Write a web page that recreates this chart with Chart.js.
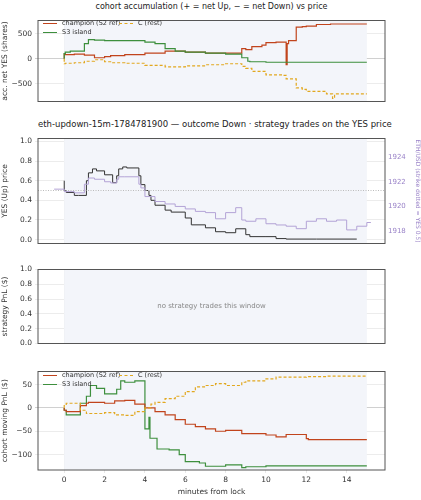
<!DOCTYPE html>
<html><head><meta charset="utf-8">
<script src="https://cdn.jsdelivr.net/npm/chart.js@4"></script>
<style>
body{margin:0;width:421px;height:500px;position:relative;background:#fff;font-family:"DejaVu Sans",sans-serif;overflow:hidden}
.p{position:absolute;left:0}
.t{position:absolute;left:38px;width:347px;text-align:center;font-size:8px;color:#222;white-space:nowrap}
.lg{position:absolute;font-size:6.5px;color:#333;line-height:9px}
.lg span.sw{display:inline-block;width:14px;height:0;border-top:1.5px solid;vertical-align:middle;margin-right:5px}
</style></head><body>
<div class="t" style="top:2px">cohort accumulation (+ = net Up, − = net Down) vs price</div>
<div class="p" style="top:13px;width:387px;height:96px"><canvas id="c1"></canvas></div>
<div class="lg" style="left:43px;top:19px"><span class="sw" style="border-color:#c1441c"></span>champion (S2 ref)<br><span class="sw" style="border-color:#3d8f3d"></span>S3 island</div>
<div class="lg" style="left:119px;top:19px"><span class="sw" style="border-color:#e2a81f;border-top-style:dashed"></span>C (rest)</div>
<div class="t" style="top:119px;font-size:8.5px">eth-updown-15m-1784781900 — outcome Down · strategy trades on the YES price</div>
<div class="p" style="top:131px;width:421px;height:120px"><canvas id="c2"></canvas></div>
<div class="p" style="top:262px;width:387px;height:89px"><canvas id="c3"></canvas></div>
<div class="t" style="top:302px;color:#888;font-size:7px">no strategy trades this window</div>
<div class="p" style="top:364px;width:387px;height:136px"><canvas id="c4"></canvas></div>
<div class="lg" style="left:43px;top:371px"><span class="sw" style="border-color:#c1441c"></span>champion (S2 ref)<br><span class="sw" style="border-color:#3d8f3d"></span>S3 island</div>
<div class="lg" style="left:119px;top:371px"><span class="sw" style="border-color:#e2a81f;border-top-style:dashed"></span>C (rest)</div>
<script>
// ---- data ----
const accChampX=[0,0.05,0.5,1,1.5,1.6,2,2.3,3,4,5,6,7,8,8.8,9,9.3,9.8,10,10.5,11,11.05,11.12,11.5,11.8,12,12.5,13.2,15];
const accChampY=[0,100,80,90,70,20,20,40,60,80,110,150,130,110,110,200,180,240,270,320,330,-120,300,360,630,640,650,680,690];
const accS3X=[0,0.05,0.3,1,1.2,1.5,2,4,4.5,5,5.5,6,7,8,8.8,9.1,9.2,10,10.5,15];
const accS3Y=[0,100,130,150,300,380,370,360,330,300,200,150,130,110,90,20,-50,-60,-70,-70];
const accCX=[0,0.05,0.5,1,1.5,2,2.3,3,4,5,6,7,8,8.8,9,9.3,10,10.8,11,11.5,11.8,12,13,13.3,13.4,13.5,15];
const accCY=[0,-100,-90,-80,-50,-20,-60,-80,-90,-130,-160,-140,-120,-100,-150,-190,-250,-320,-330,-400,-580,-610,-650,-700,-790,-700,-700];
const yesX=[0,0.1,0.5,0.7,1.1,1.2,1.4,1.6,2,2.4,2.6,2.7,2.9,3.1,3.7,3.8,4.0,4.2,4.3,4.5,5,5.3,6,6.3,7,7.5,8,8.5,9,9.2,10,10.5,11,12.5,14.5];
const yesY=[0.6,0.5,0.48,0.45,0.45,0.6,0.68,0.72,0.7,0.66,0.58,0.65,0.72,0.74,0.73,0.65,0.56,0.5,0.45,0.4,0.35,0.3,0.28,0.22,0.15,0.12,0.08,0.07,0.11,0.05,0.03,0.03,0.01,0.005,0.005];
const ethX=[-0.5,0,0.5,1,1.2,1.5,2,2.3,2.6,2.7,3,3.7,3.8,4,4.5,5,5.5,6,6.5,7,7.5,8,8.5,8.8,9,9.5,10,10.5,11,11.5,12,12.5,13,13.5,14,14.5,15,15.2];
const ethY=[1921.4,1921.4,1921.2,1921.1,1921.8,1922.3,1922.2,1922,1921.9,1922.2,1922.4,1922.4,1921.8,1921.5,1920.8,1920.4,1920.2,1920,1919.8,1919.6,1919.5,1919,1919.5,1919.9,1918.9,1918.8,1919,1918.6,1918.5,1918.4,1918.2,1918.8,1919,1918.8,1918.9,1918.1,1918.4,1918.7];
const strikeYes=0.5;
const pnlChampX=[0,0.1,0.8,1.1,1.2,1.5,2,2.5,3,3.5,4,4.5,5,5.5,6,6.5,7,7.5,8,8.8,9,10,10.5,11,12,12.1,14,15];
const pnlChampY=[0,-5,-8,5,10,12,12,10,15,16,8,0,-8,-15,-25,-35,-40,-45,-50,-48,-55,-55,-58,-62,-57,-66,-68,-68];
const pnlS3X=[0,0.1,0.8,1.1,1.3,1.6,2,2.6,2.8,3,3.5,4,4.2,4.25,4.6,5.2,5.7,6,6.7,7,8,8.8,9,10,11,15];
const pnlS3Y=[0,-5,-15,10,25,48,42,30,40,58,55,58,-45,-20,-65,-88,-90,-100,-115,-118,-125,-122,-128,-126,-124,-124];
const pnlCX=[0,0.1,0.8,1.1,1.5,2,2.5,3,3.5,4,4.3,4.5,5,5.5,6,6.5,7,7.5,8,8.8,9,10,10.5,12,13,15];
const pnlCY=[0,5,10,-5,-12,-12,-10,-15,-16,-8,0,8,12,20,25,35,45,48,52,48,55,58,62,66,67,68];
const xTicks=[0,2,4,6,8,10,12,14];
// ---- helpers ----
const pts=(xs,ys)=>xs.map((x,i)=>({x,y:ys[i]}));
const F={family:"DejaVu Sans",size:7.5};
const shade={id:'shade',beforeDatasetsDraw(c){const x=c.scales.x,a=c.chartArea,ctx=c.ctx;ctx.save();ctx.fillStyle='#f3f5fa';ctx.fillRect(x.getPixelForValue(0),a.top,x.getPixelForValue(15)-x.getPixelForValue(0),a.bottom-a.top);ctx.restore();}};
const frame={id:'frame',afterDraw(c){const a=c.chartArea,ctx=c.ctx;ctx.save();ctx.strokeStyle='#555';ctx.lineWidth=1;ctx.strokeRect(a.left,a.top,a.right-a.left,a.bottom-a.top);ctx.restore();}};
function xScale(show){return {type:'linear',min:-1.3,max:15.9,afterBuildTicks:s=>{s.ticks=xTicks.map(v=>({value:v}))},
 grid:{color:'#e8e8e8',drawTicks:show,tickLength:3},border:{display:false},
 ticks:{display:show,font:F,color:'#333'},title:{display:show,text:'minutes from lock',font:{family:"DejaVu Sans",size:7.5},color:'#333',padding:0}};}
function yScale(min,max,ticks,title,fmt){return {min,max,afterBuildTicks:s=>{s.ticks=ticks.map(v=>({value:v}))},afterFit:s=>{s.width=38},
 grid:{color:c=>c.tick&&c.tick.value===0&&ticks.includes(0)&&title!=='YES (Up) price'&&title!=='strategy PnL ($)'?'#d0d0d0':'#ececec',drawTicks:true,tickLength:3},border:{display:false},
 ticks:{font:F,color:'#333',callback:fmt||(v=>String(v).replace('-','−'))},title:{display:true,text:title,font:{family:"DejaVu Sans",size:7.5},color:'#333',padding:1}};}
function line(d,col,dash,w){return {data:d,borderColor:col,borderWidth:w||1.2,borderDash:dash||[],stepped:'after',pointRadius:0,fill:false};}
const base={responsive:true,maintainAspectRatio:false,animation:false,plugins:{legend:{display:false},tooltip:{enabled:false}}};
const RED='#c1441c',GRN='#3d8f3d',YEL='#e2a81f';
new Chart(c1,{type:'scatter',data:{datasets:[line(pts(accCX,accCY),YEL,[3,2]),line(pts(accS3X,accS3Y),GRN),line(pts(accChampX,accChampY),RED)]},
 options:{...base,showLine:true,layout:{padding:{right:2}},scales:{x:xScale(false),y:yScale(-850,760,[-500,0,500],'acc. net YES (shares)')}},plugins:[shade,frame]});
new Chart(c2,{type:'scatter',data:{datasets:[
 {data:[{x:-1.3,y:strikeYes},{x:15.9,y:strikeYes}],borderColor:'#bbb',borderWidth:1,borderDash:[1,1.5],pointRadius:0,yAxisID:'y'},
 {...line(pts(ethX,ethY),'#b3a3d6',[],1),yAxisID:'y2'},
 {...line(pts(yesX,yesY),'#333',[],1),yAxisID:'y'}]},
 options:{...base,showLine:true,scales:{x:xScale(false),
  y:yScale(-0.04,1.03,[0,0.2,0.4,0.6,0.8,1.0],'YES (Up) price',v=>v.toFixed(1)),
  y2:{position:'right',min:1917,max:1925.5,afterBuildTicks:s=>{s.ticks=[1918,1920,1922,1924].map(v=>({value:v}))},afterFit:s=>{s.width=36},
   grid:{display:false,drawTicks:false},border:{display:false},ticks:{font:{family:"DejaVu Sans",size:7},color:'#9a83c8',padding:3,callback:v=>String(v)},title:{display:true,text:'ETH/USD (strike dotted = YES 0.5)',font:{family:"DejaVu Sans",size:6},color:'#9a83c8',padding:0}}}},plugins:[shade,frame]});
new Chart(c3,{type:'scatter',data:{datasets:[]},
 options:{...base,layout:{padding:{right:2}},scales:{x:xScale(false),y:yScale(0,1,[0,0.2,0.4,0.6,0.8,1.0],'strategy PnL ($)',v=>v.toFixed(1))}},plugins:[shade,frame]});
new Chart(c4,{type:'scatter',data:{datasets:[line(pts(pnlCX,pnlCY),YEL,[3,2]),line(pts(pnlChampX,pnlChampY),RED),line(pts(pnlS3X,pnlS3Y),GRN)]},
 options:{...base,showLine:true,layout:{padding:{right:2,bottom:3}},scales:{x:xScale(true),y:yScale(-133,78,[-100,-50,0,50],'cohort moving PnL ($)')}},plugins:[shade,frame]});
</script></body></html>
